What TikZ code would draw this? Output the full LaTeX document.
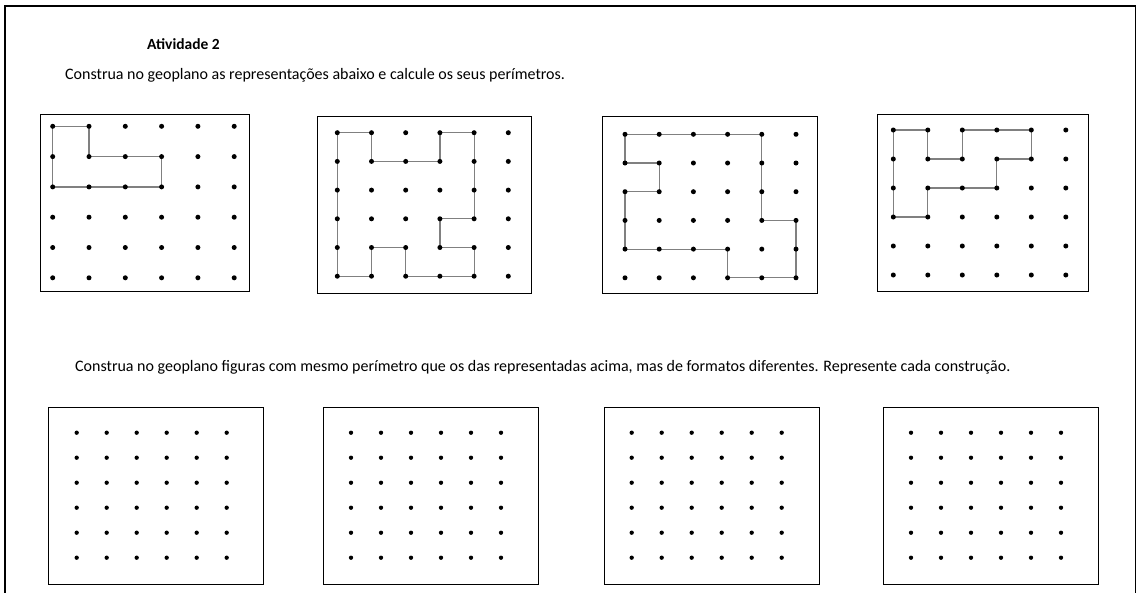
\documentclass[tikz,border=0pt]{standalone}
\usepackage{fontspec}
\setmainfont{Carlito}
\usetikzlibrary{backgrounds}

\begin{document}
\begin{tikzpicture}[x=1pt, y=-1pt,
    board/.style={draw, line width=0.9pt},
    peg/.style={circle, fill=black, inner sep=0pt, minimum size=#1},
    peg/.default=5pt,
    edge/.style={draw=black!50, line width=1.2pt},
    txt/.style={anchor=west, inner sep=0pt, font=\fontsize{16}{18}\selectfont}]
  \useasboundingbox (0,0) rectangle (1138,592);

  % moldura
  \draw[line width=2.4pt] (5,596) -- (5,6) -- (1136,6);
  \draw[line width=1.3pt] (1135.5,6) -- (1135.5,596);

  \node[txt, font=\fontsize{15.5}{18}\selectfont\bfseries] (titulo) at (147,44) {Atividade 2};
  \node[txt] (enunc1) at (65,75) {Construa no geoplano as representações abaixo e calcule os seus perímetros.};
  \node[txt] (enunc2) at (75,367) {Construa no geoplano figuras com mesmo perímetro que os das representadas acima, mas de formatos diferentes. Represente cada construção.};

  % geoplanos de cima
  \foreach \n/\xa/\ya/\xb/\yb/\ox/\oy/\dx/\dy in {
      t1/40/114/249/291/52.7/126.3/36.3/30.3,
      t2/317/116/531/293/337.3/132.7/34.2/28.7,
      t3/602/116/817/293/625/134.3/34.2/28.7,
      t4/877/114/1088/291/893.3/130/34.5/29} {
    \draw[board] (\xa,\ya) rectangle (\xb,\yb);
    \foreach \i in {0,...,5}
      \foreach \j in {0,...,5}
        \node[peg] (\n-\i-\j) at (\ox+\i*\dx, \oy+\j*\dy) {};
  }

  % geoplanos de baixo
  \foreach \n/\xa/\ox in {b1/48/76.7, b2/323/351, b3/604/631.7, b4/883/911} {
    \draw[board] (\xa,407) rectangle (\xa+215,584);
    \foreach \i in {0,...,5}
      \foreach \j in {0,...,5}
        \node[peg=4.3pt] (\n-\i-\j) at (\ox+\i*30, 432.7+\j*25) {};
  }

  % figuras
  \begin{scope}[on background layer]
    \draw[edge] (t1-0-0.center) \foreach \p in {1-0,1-1,3-1,3-2,0-2} {-- (t1-\p.center)} -- cycle;
    \draw[edge] (t2-0-0.center) \foreach \p in {1-0,1-1,3-1,3-0,4-0,4-3,3-3,3-4,4-4,4-5,2-5,2-4,1-4,1-5,0-5} {-- (t2-\p.center)} -- cycle;
    \draw[edge] (t3-0-0.center) \foreach \p in {4-0,4-3,5-3,5-5,3-5,3-4,0-4,0-2,1-2,1-1,0-1} {-- (t3-\p.center)} -- cycle;
    \draw[edge] (t4-0-0.center) \foreach \p in {1-0,1-1,2-1,2-0,4-0,4-1,3-1,3-2,1-2,1-3,0-3} {-- (t4-\p.center)} -- cycle;
  \end{scope}
\end{tikzpicture}
\end{document}
